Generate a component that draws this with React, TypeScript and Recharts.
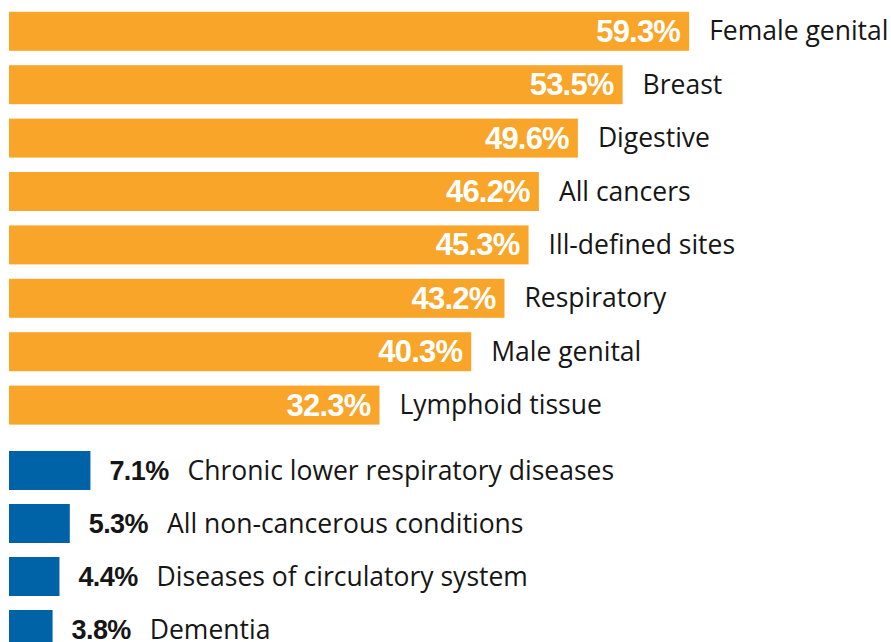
import { BarChart, Bar, XAxis, YAxis } from "recharts"

// cancer sites (orange) and non-cancer conditions (blue), shares in %
const cancerSites = [
	"Female genital",
	"Breast",
	"Digestive",
	"All cancers",
	"Ill-defined sites",
	"Respiratory",
	"Male genital",
	"Lymphoid tissue"
]
const cancerShares = [59.3, 53.5, 49.6, 46.2, 45.3, 43.2, 40.3, 32.3]

const otherConditions = [
	"Chronic lower respiratory diseases",
	"All non-cancerous conditions",
	"Diseases of circulatory system",
	"Dementia"
]
const otherShares = [7.1, 5.3, 4.4, 3.8]

const ORANGE = "#F8A52A"
const BLUE = "#0062A7"
const TEXT = "#161616"
const NAME_FONT = "'Open Sans', 'Noto Sans', sans-serif"
const VALUE_FONT = "'Liberation Sans', Arial, sans-serif"

const X_DOMAIN: [number, number] = [0, 76.9]

const cancerData = cancerSites.map((name, i) => ({ name, value: cancerShares[i] }))
const otherData = otherConditions.map((name, i) => ({ name, value: otherShares[i] }))

function OrangeBar(props: any) {
	const { x, y, width, height, payload } = props
	const mid = y + height / 2
	const end = x + width
	return (
		<g>
			<rect x={x} y={y} width={width} height={height} fill={ORANGE} />
			<text
				x={end - 9}
				y={mid + 10.5}
				textAnchor="end"
				fill="#fff"
				fontFamily={VALUE_FONT}
				fontWeight={700}
				fontSize={31}
				letterSpacing={-0.8}
			>
				{payload.value.toFixed(1)}%
			</text>
			<text x={end + 20} y={mid + 9} fill={TEXT} fontFamily={NAME_FONT} fontSize={26.5}>
				{payload.name}
			</text>
		</g>
	)
}

function BlueBar(props: any) {
	const { x, y, width, height, payload } = props
	const mid = y + height / 2
	const end = x + width
	return (
		<g>
			<rect x={x} y={y} width={width} height={height} fill={BLUE} />
			<text x={end + 19} y={mid + 9.5} fill={TEXT}>
				<tspan fontFamily={VALUE_FONT} fontWeight={700} fontSize={27} letterSpacing={-0.6}>
					{payload.value.toFixed(1)}%
				</tspan>
				<tspan dx={19} fontFamily={NAME_FONT} fontSize={26.5}>
					{payload.name}
				</tspan>
			</text>
		</g>
	)
}

export default function App() {
	return (
		<div
			style={{
				position: "absolute",
				left: 0,
				top: 0,
				width: 891,
				height: 642,
				overflow: "hidden",
				background: "#fff"
			}}
		>
			<BarChart
				layout="vertical"
				width={891}
				height={432}
				data={cancerData}
				margin={{ top: 4.8, right: 0, bottom: 0, left: 9 }}
			>
				<XAxis type="number" domain={X_DOMAIN} hide />
				<YAxis type="category" dataKey="name" hide />
				<Bar dataKey="value" barSize={39} shape={OrangeBar} isAnimationActive={false} />
			</BarChart>
			<BarChart
				layout="vertical"
				width={891}
				height={224}
				data={otherData}
				margin={{ top: 12, right: 0, bottom: 0, left: 9 }}
			>
				<XAxis type="number" domain={X_DOMAIN} hide />
				<YAxis type="category" dataKey="name" hide />
				<Bar dataKey="value" barSize={39} shape={BlueBar} isAnimationActive={false} />
			</BarChart>
		</div>
	)
}
